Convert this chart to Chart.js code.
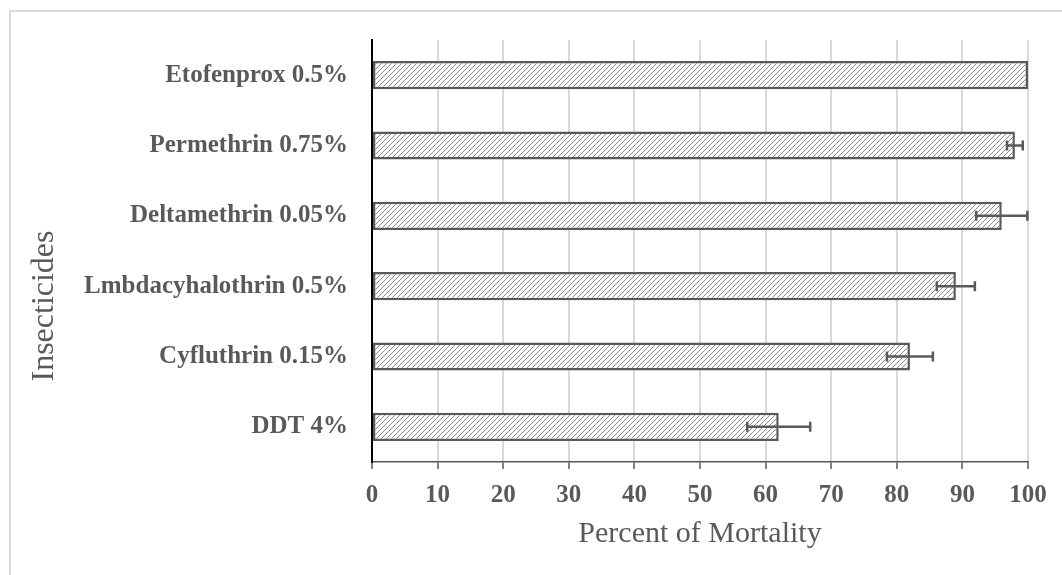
<!DOCTYPE html>
<html>
<head>
<meta charset="utf-8">
<script src="https://cdn.jsdelivr.net/npm/chart.js@4"></script>
<style>
    html, body { margin: 0; padding: 0; background: #fff; }
    #wrap { position: relative; width: 1062px; height: 575px; overflow: hidden; }
    #frame { position: absolute; left: 9px; top: 10px; width: 1100px; height: 600px; border: 2px solid #d9d9d9; }
    #mortChart { position: absolute; left: 0; top: 0; }
</style>
</head>
<body>
<div id="wrap">
    <div id="frame"></div>
    <canvas id="mortChart" width="1062" height="575"></canvas>
</div>
<script>
const categories = [
    "Etofenprox 0.5%",
    "Permethrin 0.75%",
    "Deltamethrin 0.05%",
    "Lmbdacyhalothrin 0.5%",
    "Cyfluthrin 0.15%",
    "DDT 4%",
];
const mortality = [100, 98, 96, 89, 82, 62];
const errors = [0, 1.2, 3.9, 2.9, 3.5, 4.8];
const xTicks = [0, 10, 20, 30, 40, 50, 60, 70, 80, 90, 100];

document.addEventListener("DOMContentLoaded", function () {
    const chartElement = document.getElementById("mortChart");
    if (!chartElement) return;

    // diagonal hatch fill
    const tile = document.createElement("canvas");
    tile.width = 5;
    tile.height = 5;
    const tctx = tile.getContext("2d");
    tctx.fillStyle = "#ffffff";
    tctx.fillRect(0, 0, 5, 5);
    tctx.fillStyle = "#8a8a8a";
    for (let i = 0; i < 5; i++) {
        tctx.fillRect(i, 4 - i, 1, 1);
    }
    const hatch = tctx.createPattern(tile, "repeat");

    const errorBars = {
        id: "errorBars",
        afterDatasetsDraw(chart) {
            const ctx = chart.ctx;
            const meta = chart.getDatasetMeta(0);
            const xs = chart.scales.x;
            ctx.save();
            ctx.strokeStyle = "#595959";
            ctx.lineWidth = 2.5;
            meta.data.forEach((bar, i) => {
                if (!errors[i]) return;
                const lo = xs.getPixelForValue(mortality[i] - errors[i]);
                const hi = xs.getPixelForValue(mortality[i] + errors[i]);
                const y = bar.y;
                ctx.beginPath();
                ctx.moveTo(lo, y);
                ctx.lineTo(hi, y);
                ctx.moveTo(lo, y - 5);
                ctx.lineTo(lo, y + 5);
                ctx.moveTo(hi, y - 5);
                ctx.lineTo(hi, y + 5);
                ctx.stroke();
            });
            ctx.restore();
        },
    };

    const yTitle = {
        id: "yTitle",
        afterDraw(chart) {
            const ctx = chart.ctx;
            ctx.save();
            ctx.translate(45, 306);
            ctx.rotate(-Math.PI / 2);
            ctx.font = "32px 'Liberation Serif'";
            ctx.fillStyle = "#595959";
            ctx.textAlign = "center";
            ctx.textBaseline = "middle";
            ctx.fillText("Insecticides", 0, 0);
            ctx.restore();
        },
    };

    new Chart(chartElement, {
        type: "bar",
        data: {
            labels: categories,
            datasets: [
                {
                    label: "Percent of Mortality",
                    data: mortality,
                    backgroundColor: hatch,
                    borderColor: "#595959",
                    borderWidth: 2.5,
                    borderSkipped: false,
                    barPercentage: 0.8,
                    categoryPercentage: 0.5,
                },
            ],
        },
        options: {
            indexAxis: "y",
            responsive: false,
            animation: false,
            layout: {
                padding: { top: 40, right: 34, left: 0, bottom: 0 },
            },
            plugins: {
                legend: { display: false },
                tooltip: { enabled: false },
            },
            scales: {
                x: {
                    min: 0,
                    max: 100,
                    afterBuildTicks: (s) => {
                        s.ticks = xTicks.map((v) => ({ value: v }));
                    },
                    afterFit: (s) => {
                        s.height = 113;
                    },
                    grid: {
                        color: "#d9d9d9",
                        lineWidth: 2,
                        tickColor: "#595959",
                        tickLength: 7,
                        tickWidth: 1.5,
                    },
                    border: { color: "#595959", width: 1.5 },
                    ticks: {
                        color: "#595959",
                        padding: 12,
                        font: { family: "'Liberation Serif'", size: 25, weight: "bold" },
                    },
                    title: {
                        display: true,
                        text: "Percent of Mortality",
                        color: "#595959",
                        padding: { top: 0, bottom: 23 },
                        font: { family: "'Liberation Serif'", size: 30 },
                    },
                },
                y: {
                    afterFit: (s) => {
                        s.width = 372;
                    },
                    grid: { drawOnChartArea: false, drawTicks: false },
                    border: { color: "#000000", width: 2 },
                    ticks: {
                        color: "#595959",
                        padding: 24,
                        font: { family: "'Liberation Serif'", size: 25, weight: "bold" },
                    },
                },
            },
        },
        plugins: [errorBars, yTitle],
    });
});
</script>
</body>
</html>
